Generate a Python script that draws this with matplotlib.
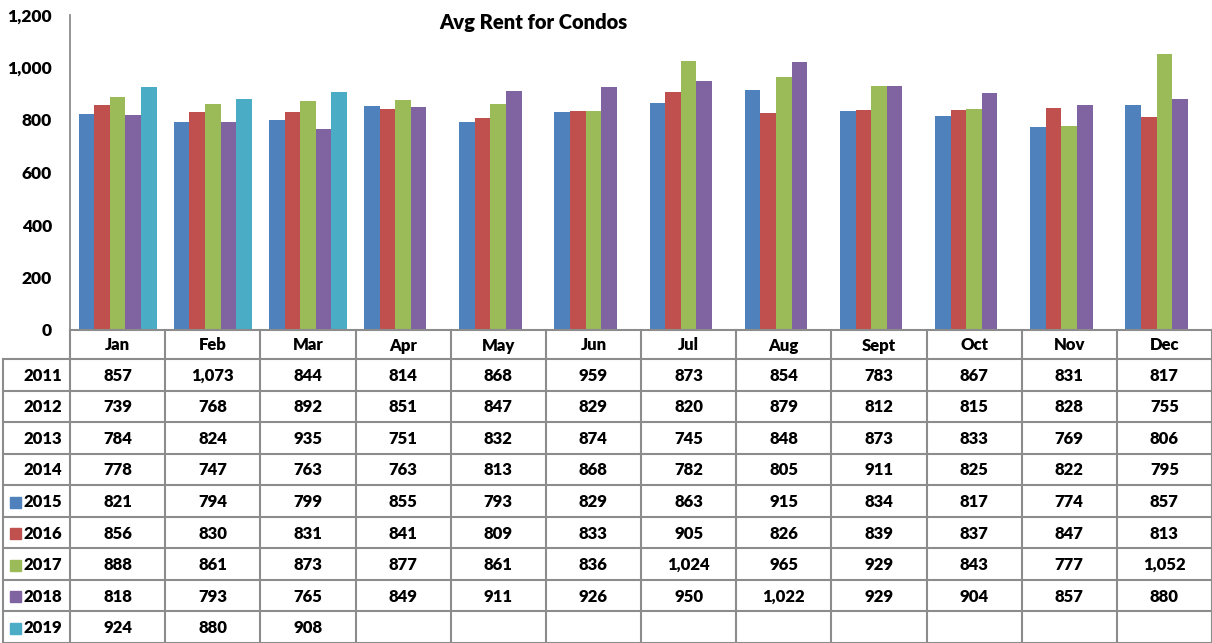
import numpy as np
import matplotlib
matplotlib.use("Agg")
import matplotlib.pyplot as plt
from matplotlib.patches import Rectangle

plt.rcParams['font.family'] = ['Lato', 'DejaVu Sans']
FW = 'heavy'

months = ["Jan", "Feb", "Mar", "Apr", "May", "Jun", "Jul", "Aug", "Sept", "Oct", "Nov", "Dec"]
years = ["2011", "2012", "2013", "2014", "2015", "2016", "2017", "2018", "2019"]

rent_2011 = [857, 1073, 844, 814, 868, 959, 873, 854, 783, 867, 831, 817]
rent_2012 = [739, 768, 892, 851, 847, 829, 820, 879, 812, 815, 828, 755]
rent_2013 = [784, 824, 935, 751, 832, 874, 745, 848, 873, 833, 769, 806]
rent_2014 = [778, 747, 763, 763, 813, 868, 782, 805, 911, 825, 822, 795]
rent_2015 = [821, 794, 799, 855, 793, 829, 863, 915, 834, 817, 774, 857]
rent_2016 = [856, 830, 831, 841, 809, 833, 905, 826, 839, 837, 847, 813]
rent_2017 = [888, 861, 873, 877, 861, 836, 1024, 965, 929, 843, 777, 1052]
rent_2018 = [818, 793, 765, 849, 911, 926, 950, 1022, 929, 904, 857, 880]
rent_2019 = [924, 880, 908, None, None, None, None, None, None, None, None, None]

all_series = [rent_2011, rent_2012, rent_2013, rent_2014, rent_2015,
              rent_2016, rent_2017, rent_2018, rent_2019]
# only 2015-2019 are drawn as bars
bar_series = [rent_2015, rent_2016, rent_2017, rent_2018, rent_2019]
bar_colors = ["#4F81BD", "#C0504D", "#9BBB59", "#8064A2", "#4BACC6"]
y_ticks = [0, 200, 400, 600, 800, 1000, 1200]

W, H = 1212, 643
fig = plt.figure(figsize=(W / 100, H / 100), dpi=100)

ax_left, ax_right = 70, 1212
ax_top, ax_bot = 15, 330
ax = fig.add_axes([ax_left / W, (H - ax_bot) / H, (ax_right - ax_left) / W, (ax_bot - ax_top) / H])

n = len(months)
x = np.arange(n)
bw = 0.164
for k, (s, c) in enumerate(zip(bar_series, bar_colors)):
    vals = np.array([np.nan if v is None else v for v in s], dtype=float)
    ax.bar(x + (k - 2) * bw, vals, width=bw, color=c, edgecolor='none', zorder=3)

ax.set_xlim(-0.5, n - 0.5)
ax.set_ylim(0, 1200)
ax.set_yticks(y_ticks)
ax.set_yticklabels([f"{t:,}" for t in y_ticks], fontsize=12.5, fontweight=FW)
ax.tick_params(axis='y', length=0, pad=13)
ax.set_xticks([])
for sp in ['top', 'right', 'bottom']:
    ax.spines[sp].set_visible(False)
ax.spines['left'].set_color('#8c8c8c')
ax.spines['left'].set_linewidth(1.3)

# overlay for data table (pixel coordinates)
ov = fig.add_axes([0, 0, 1, 1])
ov.set_xlim(0, W)
ov.set_ylim(H, 0)
ov.axis('off')
ov.patch.set_alpha(0)

colw = (ax_right - ax_left) / n
lc = '#8c8c8c'
lw = 1.5
hdr_top, hdr_bot = 330, 359
rowh = (H - hdr_bot) / len(years)

# header row
ov.plot([ax_left, W], [hdr_top, hdr_top], color=lc, lw=lw)
for i in range(n + 1):
    xx = ax_left + i * colw
    ov.plot([xx, xx], [hdr_top, H], color=lc, lw=lw)
for i, m in enumerate(months):
    ov.text(ax_left + (i + 0.5) * colw, (hdr_top + hdr_bot) / 2 + 1, m,
            ha='center', va='center', fontsize=12, fontweight=FW)

left_edge = 3
ov.plot([left_edge, left_edge], [hdr_bot, H], color=lc, lw=lw)
for r in range(len(years) + 1):
    yy = hdr_bot + r * rowh
    ov.plot([left_edge, W], [yy, yy], color=lc, lw=lw)

for r, (yr, s) in enumerate(zip(years, all_series)):
    yc = hdr_bot + (r + 0.5) * rowh + 1
    ov.text(62, yc, yr, ha='right', va='center', fontsize=12, fontweight=FW)
    if r >= 4:
        ov.add_patch(Rectangle((10, yc - 5.5), 11, 11, color=bar_colors[r - 4]))
    for i, v in enumerate(s):
        if v is not None:
            ov.text(ax_left + (i + 0.5) * colw, yc, f"{v:,}",
                    ha='center', va='center', fontsize=12, fontweight=FW)

ov.text(533, 22, "Avg Rent for Condos", ha='center', va='center',
        fontsize=14.5, fontweight=FW)

fig.savefig("out.png", dpi=100)
